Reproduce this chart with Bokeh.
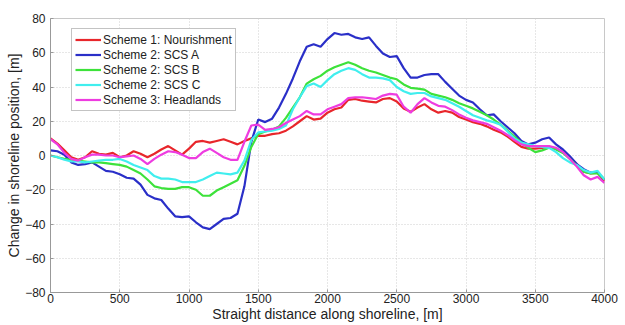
from bokeh.plotting import figure
from bokeh.models import Range1d, FixedTicker, Legend, LegendItem
from bokeh.embed import file_html
from bokeh.resources import INLINE

distance = list(range(0, 4001, 50))

nourishment = [10, 7, 3, -1, -2.5, -1, 2.5, 1, 0.5, 1.5, -1, 0, 2.5, 1, -1, 1, 3.5, 5.5, 3, 0.5,
               4, 8, 8.5, 7.5, 8.5, 9.5, 8, 6.5, 8.5, 10, 11.5, 11.5, 12.5, 13, 14.5, 17, 20, 23, 21, 21.5,
               25, 27, 28, 32.5, 33, 32, 31.5, 31, 33, 33.5, 31.5, 27.5, 25.5, 28, 30, 27, 25, 26, 25, 22.5,
               21, 19.5, 18.5, 17, 15, 13.5, 11, 8, 5, 4, 4, 4.5, 5, 4, 2, -1, -5, -9.5, -10.5, -10, -15]

scs_a = [3, 2.5, 0.5, -4, -5.5, -5, -4, -6.5, -9, -9.5, -11, -13, -13.5, -17, -23, -25, -26, -31, -35.5, -36,
         -35.5, -39, -42, -43, -40, -37, -36.5, -34, -18, 8, 21, 19.5, 21.5, 28, 36, 45, 55, 63.5, 65, 63.5,
         68, 71.5, 70.5, 71, 69, 68, 69, 64, 59.5, 57.5, 58, 51, 45.5, 45.5, 47, 47.5, 47.5, 43, 39, 35,
         32.5, 31, 27, 23.5, 24, 20, 16.5, 13, 8.5, 6.5, 7.5, 9.5, 10.5, 6.5, 3.5, -0.5, -5, -8, -10, -10, -14]

scs_b = [0, -1, -2, -2.5, -3, -3.5, -4, -4, -4.5, -5, -5.5, -6.5, -8.5, -10.5, -14, -18, -19, -19.5, -19.5, -18.5,
         -18.5, -20, -23.5, -23.5, -20.5, -18.5, -16.5, -14.5, -6, 5, 12.5, 14, 15, 17, 22, 28, 34, 42, 44.5, 46.5,
         49.5, 51.5, 53, 54.5, 53, 51, 49.5, 48.5, 47, 45.5, 44.5, 41.5, 39.5, 39, 38.5, 36, 35, 34, 32.5, 30.5,
         29, 27.5, 25.5, 23.5, 21, 18, 14.5, 11, 7.5, 4.5, 2, 3, 4.5, 3.5, 1.5, -2, -6, -9.5, -10.5, -10.5, -14]

scs_c = [0, -1, -2.5, -3.5, -3.5, -4, -3.5, -3, -2.5, -2.5, -2, -3.5, -5.5, -7, -8.5, -12, -13.5, -13.5, -14, -15.5,
         -15.5, -15.5, -14, -12, -10, -10.5, -11, -10, -3, 9, 13.5, 14, 14.5, 15.5, 17.5, 27, 34, 40.5, 42, 40,
         44, 47.5, 49.5, 51, 50, 47.5, 45.5, 45.5, 45, 44, 40, 37.5, 36, 36.5, 36.5, 34.5, 33.5, 32.5, 30.5, 28.5,
         26, 23.5, 22, 20.5, 19.5, 18, 14, 10, 7.5, 6.5, 5.5, 5, 4.5, 2, -1.5, -4, -5.5, -8.5, -10, -9, -14]

headlands = [9.5, 6.5, 1.5, -2, -3, -1, 0.5, 0.5, 0, 0, -1, -0.5, 0, -2, -5, -2, 0.5, 2.5, 2, 0.5,
             -1.5, -1.5, 2, 4, 1.5, -1, -2.5, -2.5, 8, 17.5, 18, 15, 15.5, 16.5, 19, 21, 23, 26, 24, 24,
             27, 28.5, 30, 33.5, 34, 34, 33.5, 33, 35, 36, 35.5, 28.5, 25, 30, 33.5, 31, 29, 28.5, 26.5, 24,
             22, 20.5, 19.5, 18.5, 16.5, 14.5, 12, 9, 6.5, 5.5, 5.5, 5.5, 5.5, 4.5, 2, -2, -6.5, -11.5, -14, -12.5, -16]

series_names = ["Scheme 1: Nourishment", "Scheme 2: SCS A", "Scheme 2: SCS B",
                "Scheme 2: SCS C", "Scheme 3: Headlands"]
series_values = [nourishment, scs_a, scs_b, scs_c, headlands]
series_colors = ["#e8262b", "#2a2fc8", "#3de23a", "#40eeee", "#ee3ce0"]

x_ticks = [0, 500, 1000, 1500, 2000, 2500, 3000, 3500, 4000]
y_ticks = [-80, -60, -40, -20, 0, 20, 40, 60, 80]

FONT = "Liberation Sans"

p = figure(width=620, height=325, output_backend="svg", toolbar_location=None,
           x_range=Range1d(0, 4000), y_range=Range1d(-80, 80),
           min_border_left=50, min_border_right=16, min_border_top=18, min_border_bottom=33)
p.background_fill_color = "white"
p.border_fill_color = "white"
p.outline_line_color = "#c8c8c8"

items = []
for name, vals, col in zip(series_names, series_values, series_colors):
    r = p.line(distance, vals, line_color=col, line_width=2.2)
    items.append(LegendItem(label=name, renderers=[r]))

for ax, ticks in ((p.xaxis[0], x_ticks), (p.yaxis[0], y_ticks)):
    ax.ticker = FixedTicker(ticks=ticks)
    ax.axis_line_color = "#999999"
    ax.major_tick_line_color = "#999999"
    ax.major_tick_in = 3
    ax.major_tick_out = 0
    ax.minor_tick_line_color = None
    ax.major_label_text_font = FONT
    ax.major_label_text_font_size = "12px"
    ax.major_label_text_color = "#222222"
    ax.axis_label_text_font = FONT
    ax.axis_label_text_font_size = "14px"
    ax.axis_label_text_font_style = "normal"
    ax.axis_label_text_color = "#222222"
    ax.axis_label_standoff = 0

p.xaxis[0].major_label_standoff = 1
p.yaxis[0].major_label_standoff = 5

p.xaxis.axis_label = "Straight distance along shoreline, [m]"
p.yaxis.axis_label = "Change in shoreline position, [m]"

for g in (p.xgrid[0], p.ygrid[0]):
    g.grid_line_color = "#cfcfcf"
    g.grid_line_dash = "1 2"
    g.grid_line_width = 1

legend = Legend(items=items, location=(21, 181))
legend.label_text_font = FONT
legend.label_text_font_size = "12px"
legend.label_text_color = "#222222"
legend.glyph_width = 26
legend.glyph_height = 15
legend.label_height = 15
legend.spacing = 0
legend.padding = 3
legend.margin = 0
legend.label_standoff = 2
legend.border_line_color = "#888888"
legend.background_fill_color = "white"
legend.background_fill_alpha = 1
p.add_layout(legend, "center")

open("out.html", "w").write(file_html(p, INLINE))
